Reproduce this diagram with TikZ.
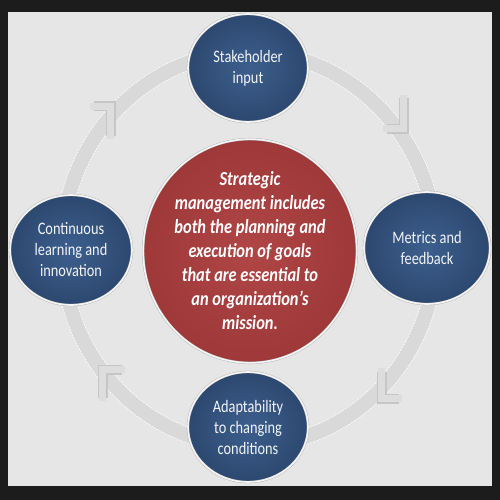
\documentclass[tikz,border=0pt]{standalone}
\usepackage{fontspec}
\setmainfont{Carlito}
\newfontfamily\roundfont[FakeStretch=0.82]{Carlito}
\usetikzlibrary{shapes.geometric}
\definecolor{frame}{HTML}{1C1C1C}
\definecolor{panel}{HTML}{E6E6E6}
\definecolor{ring}{HTML}{D9D9D9}
\definecolor{navy}{HTML}{2C4870}
\definecolor{navylight}{HTML}{3D5F8E}
\definecolor{brick}{HTML}{9E3839}
\definecolor{bricklight}{HTML}{B04646}
\begin{document}
\begin{tikzpicture}[x=1pt,y=-1pt,
	topic/.style={ellipse,draw=gray!60,double=gray!8,double distance=1.6pt,
		inner color=navylight,outer color=navy,minimum width=120pt,minimum height=108pt,
		inner sep=0pt,align=center,text=white!94!navy,
		font=\roundfont\fontsize{17.5}{21}\selectfont},
	hub/.style={ellipse,draw=gray!60,double=gray!8,double distance=1.6pt,
		inner color=bricklight,outer color=brick,minimum width=208pt,minimum height=202pt,
		inner sep=0pt,align=center,text=white,
		font=\roundfont\bfseries\itshape\fontsize{20}{24}\selectfont},
	turn/.style={draw=ring!90!white,line width=7.5pt,line cap=rect,line join=miter,
		preaction={draw=gray!45,line width=10pt}}]
\useasboundingbox (0,0) rectangle (500,500);
\fill[frame] (0,0) rectangle (500,500);
\fill[panel] (8,12) rectangle (492,486);
% the cycle ring behind the nodes
\draw[ring,line width=15pt] (249,249) ellipse [x radius=187,y radius=197];
\draw[white,line width=0.6pt,dash pattern=on 2pt off 1pt] (249,249) ellipse [x radius=194.5,y radius=204.5];
\draw[white,line width=0.6pt,dash pattern=on 2pt off 1pt] (249,249) ellipse [x radius=179.5,y radius=189.5];
% chevrons, clockwise
\draw[turn] (93.5,106.5) -- (110.5,106.5) -- (110.5,135.5);
\draw[turn] (403.5,98.5) -- (403.5,128.5) -- (386.5,128.5);
\draw[turn] (381.5,371.5) -- (381.5,398.5) -- (398.5,398.5);
\draw[turn] (121.5,369.5) -- (102.5,369.5) -- (102.5,397.5);
% nodes
\node[topic] (stake) at (248,68) {Stakeholder\\input};
\node[topic,minimum width=126pt,minimum height=112pt] (metrics) at (427,248) {Metrics and\\feedback};
\node[topic,minimum height=110pt] (adapt) at (248,427) {Adaptability\\to changing\\conditions};
\node[topic,minimum width=122pt,minimum height=110pt] (learn) at (71,250) {Continuous\\learning and\\innovation};
\node[hub] (core) at (250,251) {Strategic\\management includes\\both the planning and\\execution of goals\\that are essential to\\an organization’s\\mission.};
\end{tikzpicture}
\end{document}
